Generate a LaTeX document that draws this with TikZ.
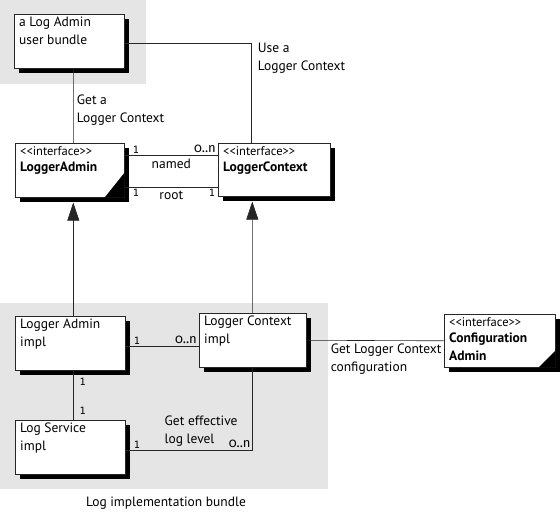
\documentclass[tikz,border=0pt]{standalone}
\usepackage{fontspec}
\setmainfont{PT Sans}
\newfontfamily\numfont{Fira Sans}[Numbers=OldStyle]
\newfontfamily\multfont{DejaVu Sans Mono}
\usepackage{tikz}
\usetikzlibrary{shadows,arrows.meta}
\newcommand{\interfacetag}{{\fontsize{12.5bp}{14bp}\selectfont<\kern0pt<interface>\kern0pt>}}

\begin{document}
\begin{tikzpicture}[x=1bp,y=-1bp,font=\fontsize{13.5bp}{18bp}\selectfont,
  bundle/.style={fill=black!10},
  umlbox/.style={draw=black!85,line width=0.6bp,fill=white,anchor=north west,
    minimum width=110bp,minimum height=54bp,
    drop shadow={shadow xshift=5bp,shadow yshift=-5bp,fill=black,opacity=1}},
  boxtext/.style={anchor=north west,align=left,inner xsep=5bp,inner ysep=3bp},
  lbl/.style={align=left},
  conn/.style={draw=black!85,line width=0.6bp},
  genarrow/.style={-{Triangle[length=18bp,width=12bp]}},
  mult/.style={font=\multfont\fontsize{10bp}{11bp}\selectfont,inner xsep=3bp,inner ysep=2bp},
  many/.style={font=\numfont\fontsize{13bp}{15bp}\selectfont,inner sep=2bp}]
\useasboundingbox (0,0) rectangle (560,514);
\fill[bundle] (0,0) rectangle (146,84);
\fill[bundle] (0,303) rectangle (328,489);

\node[umlbox] (ub) at (14,14) {};
\node[boxtext] (ubtext) at (ub.north west) {a Log Admin\\user bundle};
\node[umlbox,minimum width=109bp] (la) at (15,143) {};
\node[boxtext] (latext) at (la.north west) {\interfacetag\\[-2bp]\textbf{LoggerAdmin}};
\fill (la.south east) -- ++(-20,0) -- ++(20,-25) -- cycle;
\node[umlbox,minimum width=112bp,minimum height=53bp] (lc) at (218,143) {};
\node[boxtext] (lctext) at (lc.north west) {\interfacetag\\[-2bp]\textbf{LoggerContext}};
\node[umlbox] (lai) at (15,316) {};
\node[boxtext] (laitext) at (lai.north west) {Logger Admin\\impl};
\node[umlbox,minimum width=107bp] (lci) at (199,313) {};
\node[boxtext] (lcitext) at (lci.north west) {Logger Context\\impl};
\node[umlbox] (ls) at (15,420) {};
\node[boxtext] (lstext) at (ls.north west) {Log Service\\impl};
\node[umlbox,minimum width=111bp,minimum height=53bp] (ca) at (444,314) {};
\node[boxtext] (catext) at (ca.north west) {\interfacetag\\[-2bp]\textbf{Configuration}\\\textbf{Admin}};
\fill (ca.south east) -- ++(-17,0) -- ++(17,-17) -- cycle;

\draw[conn] ([xshift=4bp]ub.south) -- node[pos=0.3,anchor=north west,lbl] (getlc) {Get a\\Logger Context} ([xshift=3.5bp]la.north);
\draw[conn] ([yshift=-2bp]ub.east) -| node[pos=0.5,anchor=north west,xshift=3bp,yshift=4bp,lbl] (uselc) {Use a\\Logger Context} ([xshift=-23bp]lc.north);

\draw[conn] ([yshift=15bp]la.east) -- node[below] (named) {named} ([yshift=15bp]la.east -| lc.west);
\node[mult,above right,xshift=5bp] (m1) at ([yshift=15bp]la.east) {1};
\node[many,above left] (m2) at ([yshift=15bp]la.east -| lc.west) {0..n};
\draw[conn] ([yshift=-17bp]la.east) -- node[below] (root) {root} ([yshift=-17bp]la.east -| lc.west);
\node[mult,below right,xshift=5bp] (m3) at ([yshift=-17bp]la.east) {1};
\node[mult,below left] (m4) at ([yshift=-17bp]la.east -| lc.west) {1};

\draw[conn,genarrow] ([xshift=3bp]lai.north) -- ([xshift=3.5bp,yshift=-5bp]la.south);
\draw[conn,genarrow] ([xshift=-0.5bp]lci.north) -- ([xshift=-22bp,yshift=-5bp]lc.south);

\draw[conn] ([yshift=-3bp]lai.east) -- ([yshift=-3bp]lai.east -| lci.west);
\node[mult,above right,xshift=5bp] (m5) at ([yshift=-3bp]lai.east) {1};
\node[many,above left] (m6) at ([yshift=-3bp]lai.east -| lci.west) {0..n};
\draw[conn] ([xshift=3bp]lai.south) -- ([xshift=3bp]ls.north);
\node[mult,below right,xshift=3bp,yshift=-5bp] (m7) at ([xshift=3bp]lai.south) {1};
\node[mult,above right,xshift=3bp,yshift=3bp] (m8) at ([xshift=3bp]ls.north) {1};
\draw[conn] ([yshift=-3bp]ls.east) -| node[pos=0.14,above right,lbl] (effl) {Get effective\\log level} ([xshift=-0.5bp]lci.south);
\node[mult,above right,xshift=5bp] (m9) at ([yshift=-3bp]ls.east) {1};
\node[many,above left] (m10) at ([yshift=-3bp]ls.east -| lci.south) {0..n};

\draw[conn] (lci.east) -- node[pos=0.15,below right,lbl] (getcfg) {Get Logger Context\\configuration} (ca.west);

\node (bundlename) at (166,503) {Log implementation bundle};
\end{tikzpicture}
\end{document}
